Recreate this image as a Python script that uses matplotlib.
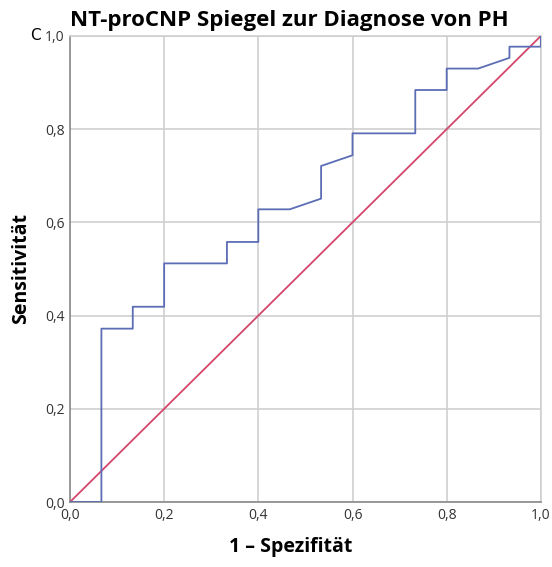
import matplotlib
matplotlib.use("Agg")
import matplotlib.pyplot as plt
from matplotlib.ticker import FuncFormatter

plt.rcParams["font.family"] = ["Open Sans", "DejaVu Sans"]

# ROC curve points (1 - specificity, sensitivity)
fpr = [0.0, 0.0667, 0.0667, 0.1333, 0.1333, 0.2, 0.2, 0.3333, 0.3333, 0.4, 0.4,
       0.4667, 0.5333, 0.5333, 0.6, 0.6, 0.7333, 0.7333, 0.8, 0.8, 0.8667,
       0.9333, 0.9333, 1.0, 1.0]
tpr = [0.0, 0.0, 0.372, 0.372, 0.419, 0.419, 0.512, 0.512, 0.558, 0.558, 0.628,
       0.628, 0.651, 0.721, 0.744, 0.791, 0.791, 0.884, 0.884, 0.930, 0.930,
       0.953, 0.977, 0.977, 1.0]
ref_line = [0.0, 1.0]
ticks = [0.0, 0.2, 0.4, 0.6, 0.8, 1.0]

fig = plt.figure(figsize=(5.52, 5.67), dpi=100)
ax = fig.add_axes([0.1268, 0.1146, 0.853, 0.822])

ax.plot(ref_line, ref_line, color="#d4466c", lw=1.3, zorder=3)
ax.plot(fpr, tpr, color="#5b6db4", lw=1.3, zorder=4)

ax.set_xlim(0, 1)
ax.set_ylim(0, 1)
ax.set_xticks(ticks)
ax.set_yticks(ticks)
comma = FuncFormatter(lambda v, p: f"{v:.1f}".replace(".", ","))
ax.xaxis.set_major_formatter(comma)
ax.yaxis.set_major_formatter(comma)
ax.tick_params(length=0, labelsize=10, labelcolor="#333333", pad=4)
ax.grid(True, color="#cfcfcf", lw=1.2)
ax.set_axisbelow(True)

for side in ["top", "right"]:
    ax.spines[side].set_color("#cfcfcf")
    ax.spines[side].set_linewidth(1.2)
for side in ["left", "bottom"]:
    ax.spines[side].set_color("#8a8a8a")
    ax.spines[side].set_linewidth(1.2)

ax.set_title("NT-proCNP Spiegel zur Diagnose von PH", loc="left",
             fontsize=16, fontweight="bold", pad=7)
ax.set_xlabel("1 – Spezifität", fontsize=14, fontweight="bold")
ax.xaxis.set_label_coords(0.469, -0.075)
ax.set_ylabel("Sensitivität", fontsize=14, fontweight="bold", labelpad=10)
fig.text(0.055, 0.938, "C", fontsize=11, ha="left", va="center",
         family="DejaVu Sans")

fig.savefig("out.png", dpi=100)
